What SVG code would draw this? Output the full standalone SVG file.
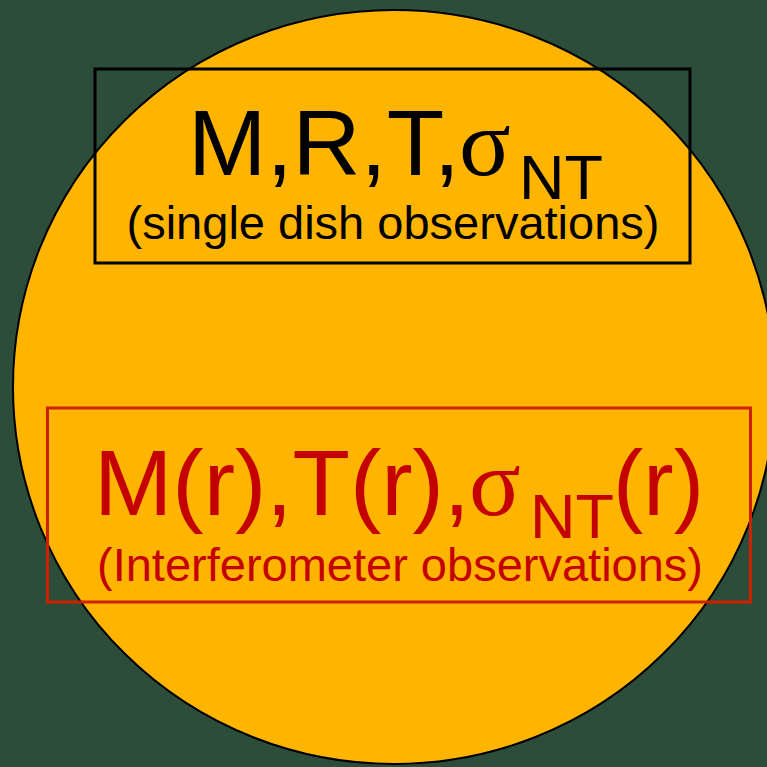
<svg xmlns="http://www.w3.org/2000/svg" width="767" height="767" viewBox="0 0 767 767">
<style>
.sans{font-family:"Liberation Sans",Arial,sans-serif}
.serif{font-family:"Liberation Serif","Times New Roman",serif}
.blk{fill:#000}
.red{fill:#c40000}
</style>
<rect x="0" y="0" width="767" height="767" fill="#2c4d3a"/>
<g id="disk">
<ellipse cx="394" cy="387" rx="381" ry="377" fill="#ffb400" stroke="#000" stroke-width="2"/>
</g>
<g id="single-dish">
<rect x="95" y="69" width="595" height="194" fill="none" stroke="#000" stroke-width="3"/>
<text class="sans blk" y="175" font-size="93"><tspan x="188" textLength="272" lengthAdjust="spacingAndGlyphs">M,R,T,</tspan><tspan class="serif" x="459" font-size="96">σ</tspan><tspan x="519" dy="24" font-size="63">NT</tspan></text>
<text class="sans blk" x="393" y="239" font-size="47" text-anchor="middle">(single dish observations)</text>
</g>
<g id="interferometer">
<rect x="47.5" y="408" width="703" height="194" fill="none" stroke="#cc2200" stroke-width="3"/>
<text class="sans red" y="515" font-size="93"><tspan x="94" textLength="376" lengthAdjust="spacingAndGlyphs">M(r),T(r),</tspan><tspan class="serif" x="469" font-size="96">σ</tspan><tspan x="530" dy="23" font-size="63">NT</tspan><tspan x="613" dy="-23" textLength="91" lengthAdjust="spacingAndGlyphs">(r)</tspan></text>
<text class="sans red" x="400" y="581" font-size="47" text-anchor="middle">(Interferometer observations)</text>
</g>
<g id="connectors"/>
</svg>
